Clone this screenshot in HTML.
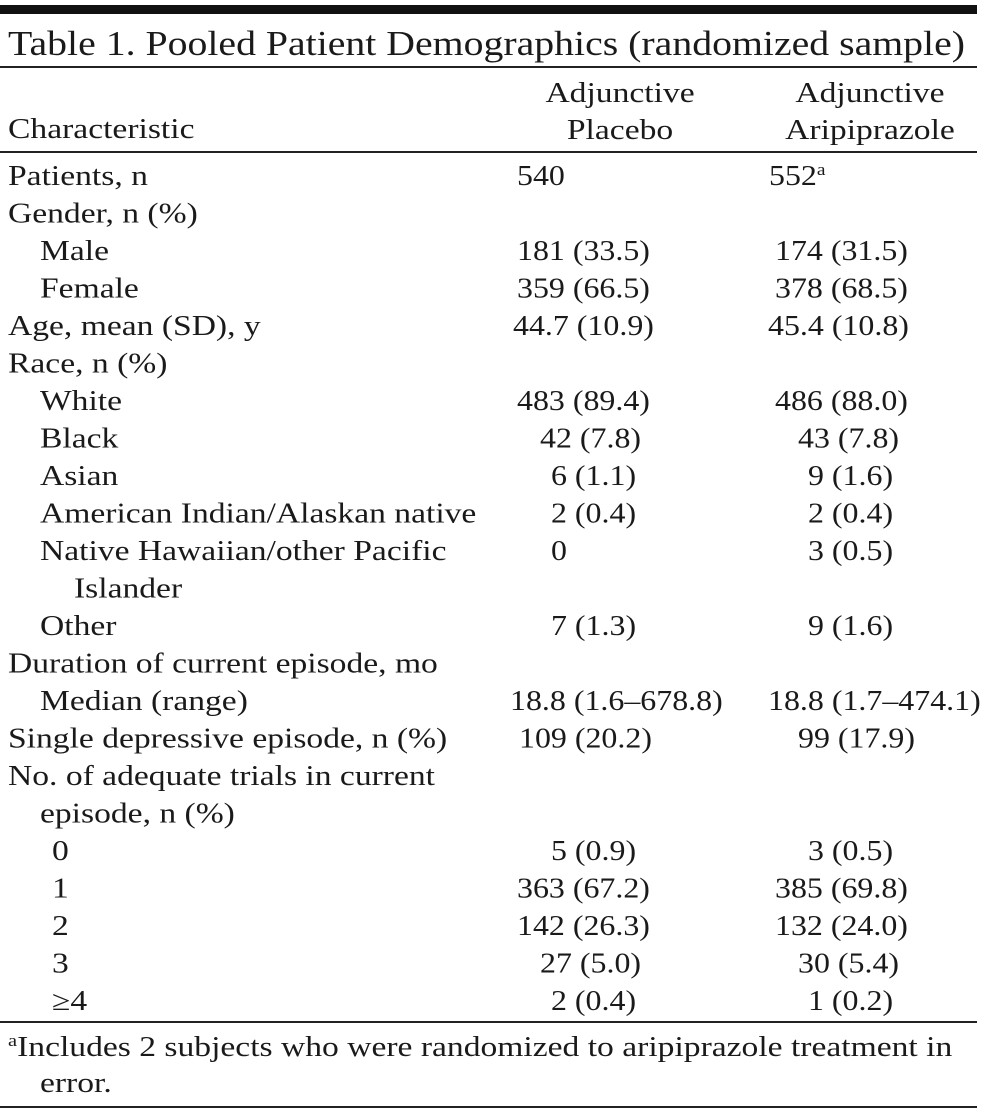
<!DOCTYPE html>
<html><head><meta charset="utf-8"><style>
html,body{margin:0;padding:0;background:#fff;}
svg{display:block;}
text{font-family:"Liberation Serif",serif;fill:#1a1a1a;font-size:28px;}
</style></head><body>
<svg width="985" height="1117" viewBox="0 0 985 1117">
<rect x="0" y="5" width="977" height="9" fill="#111"/>
<text x="8" y="55" style="font-size:35px" textLength="957" lengthAdjust="spacingAndGlyphs">Table 1. Pooled Patient Demographics (randomized sample)</text>
<rect x="0" y="66" width="977" height="2" fill="#222"/>
<g transform="scale(1.2,1)">
<text x="6.7" y="138">Characteristic</text>
<text x="516.7" y="102" text-anchor="middle">Adjunctive</text>
<text x="516.7" y="139" text-anchor="middle">Placebo</text>
<text x="725" y="102" text-anchor="middle">Adjunctive</text>
<text x="725" y="139" text-anchor="middle">Aripiprazole</text>
<g id="rows"></g>
<text x="6.7" y="1056"><tspan style="font-size:17px" dy="-10">a</tspan><tspan dy="10">Includes 2 subjects who were randomized to aripiprazole treatment in</tspan></text>
<text x="33.3" y="1092">error.</text>
</g>
<g transform="scale(1.14,1)" id="vals"></g>
<rect x="0" y="151" width="977" height="2" fill="#222"/>
<rect x="0" y="1021" width="977" height="2" fill="#222"/>
<rect x="0" y="1106" width="977" height="2" fill="#222"/>
</svg>
<script>
const labels=[["Patients, n",8],["Gender, n (%)",8],["Male",40],["Female",40],["Age, mean (SD), y",8],["Race, n (%)",8],["White",40],["Black",40],["Asian",40],["American Indian/Alaskan native",40],["Native Hawaiian/other Pacific",40],["Islander",74],["Other",40],["Duration of current episode, mo",8],["Median (range)",40],["Single depressive episode, n (%)",8],["No. of adequate trials in current",8],["episode, n (%)",40],["0",52],["1",52],["2",52],["3",52],["\u22654",52]];
const placebo=["540","","181 (33.5)","359 (66.5)","44.7 (10.9)","","483 (89.4)","42 (7.8)","6 (1.1)","2 (0.4)","0","","7 (1.3)","","18.8 (1.6\u2013678.8)","109 (20.2)","","","5 (0.9)","363 (67.2)","142 (26.3)","27 (5.0)","2 (0.4)"];
const placeboX=[517,0,517,517,513,0,517,540,551,551,551,0,551,0,510,519,0,0,551,517,517,540,551];
const arip=["552","","174 (31.5)","378 (68.5)","45.4 (10.8)","","486 (88.0)","43 (7.8)","9 (1.6)","2 (0.4)","3 (0.5)","","9 (1.6)","","18.8 (1.7\u2013474.1)","99 (17.9)","","","3 (0.5)","385 (69.8)","132 (24.0)","30 (5.4)","1 (0.2)"];
const aripX=[769,0,775,775,768,0,775,798,808,808,808,0,808,0,768,798,0,0,808,775,775,798,808];
const g=document.getElementById('rows');
const gv=document.getElementById('vals');
const NS='http://www.w3.org/2000/svg';
const SX=1.2, SV=1.14;
function mk(par,s,txt,x,y){const t=document.createElementNS(NS,'text');t.setAttribute('x',x/s);t.setAttribute('y',y);t.textContent=txt;par.appendChild(t);return t;}
labels.forEach((l,i)=>{
  const y=185+i*37.5;
  const a=mk(g,SX,l[0],l[1],y);
  
  
  if(placebo[i]){const p=mk(gv,SV,placebo[i],placeboX[i],y);
    
    }
  if(arip[i]){const q=mk(gv,SV,arip[i],aripX[i],y);
    
    
    if(i===0){const s=document.createElementNS(NS,'tspan');s.setAttribute('dy','-10');s.setAttribute('style','font-size:17px');s.textContent='a';q.appendChild(s);}}
});
</script>
</body></html>
